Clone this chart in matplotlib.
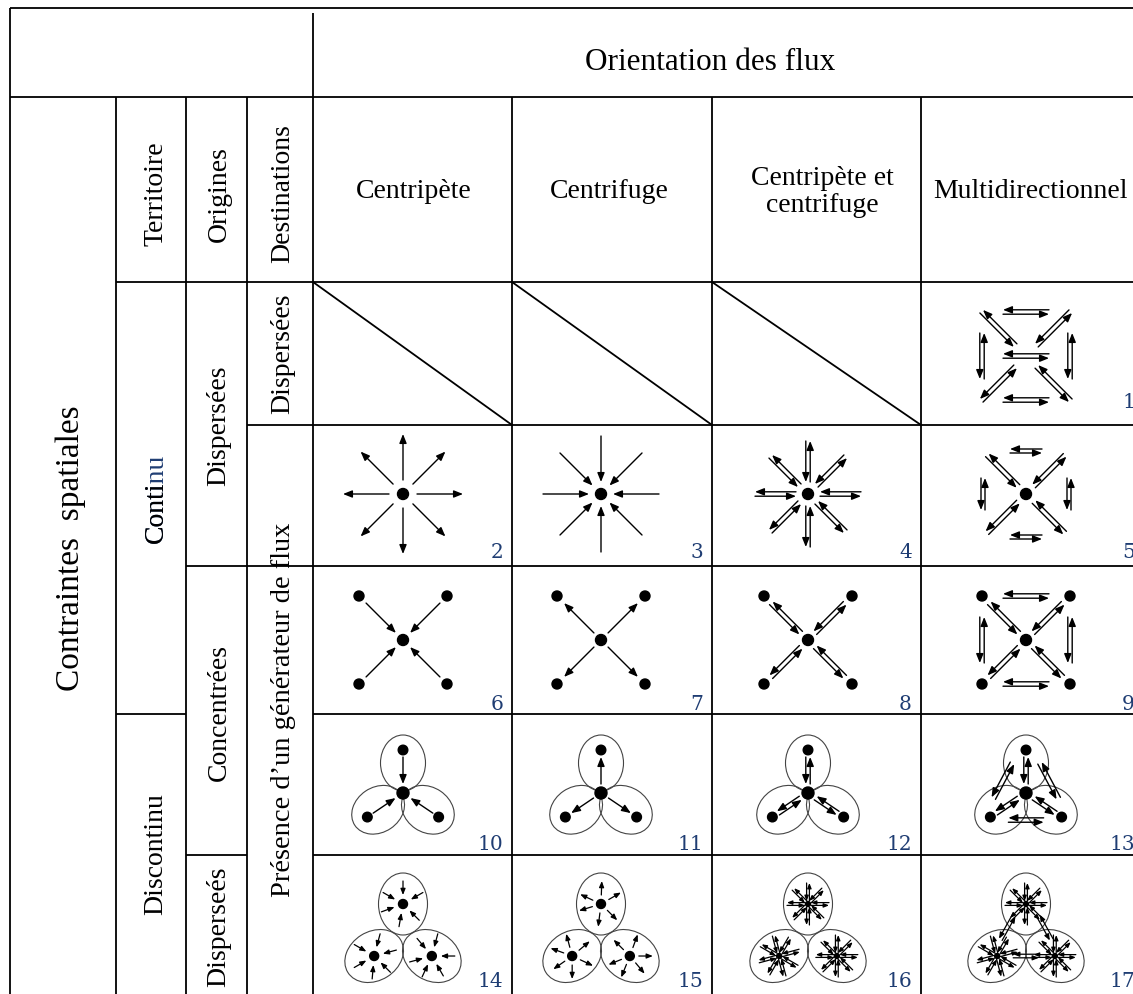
import numpy as np
import matplotlib
matplotlib.use("Agg")
import matplotlib.pyplot as plt
from matplotlib.patches import FancyArrowPatch, Ellipse, Circle

# ---------------- content ----------------
main_header = "Orientation des flux"
row_title = "Contraintes  spatiales"
sub_headers = ["Territoire", "Origines", "Destinations"]
orientations = ["Centripète", "Centrifuge", "Centripète et\ncentrifuge", "Multidirectionnel"]
territoire = ["Continu", "Discontinu"]
continu_prefix = "Conti"          # drawn in black, the rest of the word in blue
origines = ["Dispersées", "Concentrées", "Disperseés"]
destinations = ["Dispersées", "Présence d\u2019un générateur de flux"]
cell_numbers = [[None, None, None, 1],
                [2, 3, 4, 5],
                [6, 7, 8, 9],
                [10, 11, 12, 13],
                [14, 15, 16, 17]]
layouts = ["free", "star", "cross", "clover", "cluster"]   # spatial layout of each row
flows = ["in", "out", "both", "multi"]                      # flow orientation of each column
star_flip = {"in": "out", "out": "in", "both": "both", "multi": "multi"}  # row 2 drawn from the generator
blank_cells = [(0, 0), (0, 1), (0, 2)]
cluster_in_angles = [[90, 150, 200, 260, 315, 30],
                     [75, 150, 210, 265, 315, 15],
                     [75, 130, 195, 245, 300, 0]]
cluster_out_angles = [[88, 155, 197, 263, 315, 30],
                      [105, 160, 215, 270, 335, 40],
                      [70, 135, 202, 248, 310, 0]]
star_offsets = [0, 15, 0]

# ---------------- geometry / style ----------------
W, H = 1133, 994
col_x = [10, 116, 186, 247, 313, 512, 712, 921, 1145]
row_y = [8, 97, 282, 425, 566, 714, 855, 994]
icon_cx = [403, 601, 808, 1026]
icon_cy = [356, 494, 640, 793, 938]
num_right = [503, 703, 912, 1135]
num_pad = [17, 8, 4, 5, 7]
NAVY = "#1f3d73"
LW = 1.3

plt.rcParams['font.family'] = ['Liberation Serif', 'DejaVu Serif']

fig = plt.figure(figsize=(W / 100, H / 100), dpi=100)
ax = fig.add_axes([0, 0, 1, 1])
ax.set_xlim(0, W)
ax.set_ylim(H, 0)
ax.axis('off')


def hline(y, x0, x1):
    ax.plot([x0, x1], [y, y], color='k', lw=LW, solid_capstyle='butt')


def vline(x, y0, y1):
    ax.plot([x, x], [y0, y1], color='k', lw=LW, solid_capstyle='butt')


# grid
hline(row_y[0], col_x[0], W)
hline(row_y[1], col_x[0], W)
hline(row_y[2], col_x[1], W)
hline(row_y[3], col_x[3], W)
hline(row_y[4], col_x[2], W)
hline(row_y[5], col_x[1], col_x[2]); hline(row_y[5], col_x[4], W)
hline(row_y[6], col_x[2], col_x[3]); hline(row_y[6], col_x[4], W)
vline(col_x[0], row_y[0], H)
vline(col_x[4], row_y[0] + 5, H)
for x in col_x[1:4]:
    vline(x, row_y[1], H)
for x in col_x[5:8]:
    vline(x, row_y[1], H)
for (r, c) in blank_cells:
    ax.plot([col_x[4 + c], col_x[5 + c]], [row_y[2 + r], row_y[3 + r]], color='k', lw=LW)

# ---------------- text ----------------
ax.text(710, 63, main_header, ha='center', va='center', fontsize=22.5)
for xh, s in zip([414, 609, 822, 1030], orientations):
    ax.text(xh, 192, s, ha='center', va='center', fontsize=20, linespacing=1.1)
for xh, s in zip([156, 219, 283], sub_headers):
    ax.text(xh, 194, s, ha='center', va='center', rotation=90, fontsize=20)
ax.text(71, 548, row_title, ha='center', va='center', rotation=90, fontsize=24)

# "Continu": full word in blue, black prefix drawn exactly on top of it
yc = (row_y[2] + row_y[5]) / 2
t_full = ax.text(156, yc, territoire[0], ha='center', va='center', rotation=90, fontsize=20)
fig.canvas.draw()
bb = t_full.get_window_extent(fig.canvas.get_renderer())
t_full.remove()
y_start = H - bb.y0           # display -> data (1 px = 1 unit, y inverted)
ax.text(156, y_start, territoire[0], rotation=90, rotation_mode='anchor', ha='left',
        va='center', fontsize=20, color=NAVY)
ax.text(156, y_start, continu_prefix, rotation=90, rotation_mode='anchor', ha='left',
        va='center', fontsize=20, color='k', zorder=6)

ax.text(156, (row_y[5] + row_y[7]) / 2, territoire[1], ha='center', va='center', rotation=90, fontsize=20)
for (y0, y1), s in zip([(row_y[2], row_y[4]), (row_y[4], row_y[6]), (row_y[6], row_y[7])], origines):
    ax.text(219, (y0 + y1) / 2 + 2, s, ha='center', va='center', rotation=90, fontsize=20)
ax.text(283, (row_y[2] + row_y[3]) / 2, destinations[0], ha='center', va='center', rotation=90, fontsize=20)
ax.text(283, (row_y[3] + row_y[7]) / 2, destinations[1], ha='center', va='center', rotation=90, fontsize=20.5)

for r, row in enumerate(cell_numbers):
    for c, n in enumerate(row):
        if n is not None:
            ax.text(num_right[c], row_y[3 + r] - num_pad[r], str(n), ha='right', va='baseline',
                    fontsize=14.5, color=NAVY, family=['DejaVu Serif'])


# ---------------- icon helpers ----------------
def unit(a):
    t = np.deg2rad(a)
    return np.array([np.cos(t), -np.sin(t)])


def arrow(p0, p1, ms=9, lw=1.0):
    ax.add_patch(FancyArrowPatch(tuple(p0), tuple(p1),
                                 arrowstyle="-|>,head_length=0.6,head_width=0.24",
                                 mutation_scale=ms, lw=lw, color='k', shrinkA=0, shrinkB=0))


def pair(p0, p1, d=2.2, ms=9, lw=1.0):
    p0 = np.asarray(p0, float); p1 = np.asarray(p1, float)
    u = (p1 - p0) / np.linalg.norm(p1 - p0)
    n = np.array([-u[1], u[0]])
    arrow(p0 + d * n, p1 + d * n, ms, lw)
    arrow(p1 - d * n, p0 - d * n, ms, lw)


def dot(p, r):
    ax.add_patch(Circle(tuple(p), r, color='k', zorder=5))


def sides(C, D, L):
    return [(C + [-L, -D], C + [L, -D]), (C + [-L, D], C + [L, D]),
            (C + [-D, -L], C + [-D, L]), (C + [D, -L], C + [D, L])]


def flow(outer, center, kind, gap_o, gap_c, d=2.2, ms=9, lw=1.0):
    u = (center - outer) / np.linalg.norm(center - outer)
    a0 = outer + gap_o * u
    a1 = center - gap_c * u
    if kind == 'in':
        arrow(a0, a1, ms, lw)
    elif kind == 'out':
        arrow(a1, a0, ms, lw)
    else:
        pair(a0, a1, d, ms, lw)


def inter_pairs(C, pts, gap, offs, d=2.2, ms=9, lw=1.0):
    for (i, j), o in zip([(0, 1), (0, 2), (1, 2)], offs):
        a, b = pts[i], pts[j]
        u = (b - a) / np.linalg.norm(b - a)
        n = np.array([-u[1], u[0]])
        if np.dot(n, (a + b) / 2 - C) < 0:
            n = -n
        pair(a + gap * u + o * n, b - gap * u + o * n, d, ms, lw)


ELL = dict(facecolor='none', edgecolor='#444444', lw=0.8)


def draw_cell(r, c):
    C = np.array([icon_cx[c], icon_cy[r]], float)
    kind = flows[c]
    lay = layouts[r]
    if lay == 'free':
        for a in (45, 135, 225, 315):
            u = unit(a)
            pair(C + 15 * u, C + 63 * u)
        for p0, p1 in sides(C, 44, 23):
            pair(p0, p1)
        pair(C + [-23, 0], C + [23, 0])
    elif lay == 'star':
        k = star_flip[kind]
        if k in ('in', 'out', 'both'):
            for a in range(0, 360, 45):
                u = unit(a)
                if k == 'out':
                    arrow(C + 14 * u, C + 60 * u)
                elif k == 'in':
                    arrow(C + 58 * u, C + 12 * u)
                else:
                    pair(C + 12 * u, C + 53 * u)
        else:
            for a in (45, 135, 225, 315):
                u = unit(a)
                pair(C + 11 * u, C + 55 * u)
            for p0, p1 in sides(C, 43, 16):
                pair(p0, p1, d=2.0)
        dot(C, 5.5)
    elif lay == 'cross':
        corners = [C + np.array([sx * 44.0, sy * 44.0]) for sx, sy in ((-1, -1), (1, -1), (-1, 1), (1, 1))]
        for P in corners:
            flow(P, C, kind, 10, 10)
            dot(P, 5)
        if kind == 'multi':
            for p0, p1 in sides(C, 44, 23):
                pair(p0, p1)
        dot(C, 5.5)
    elif lay == 'clover':
        angs = [90, 214, 326]
        for a in angs:
            ax.add_patch(Ellipse(tuple(C + 30 * unit(a)), 56, 45, angle=-a, **ELL))
        pts = [C + 43 * unit(a) for a in angs]
        for P in pts:
            flow(P, C, kind, 7, 9)
            dot(P, 4.8)
        if kind == 'multi':
            inter_pairs(C, pts, 18, [6, 6, 3])
        dot(C, 6)
    elif lay == 'cluster':
        angs = [90, 212, 328]
        pts = [C + 34 * unit(a) for a in angs]
        for i, (P, a) in enumerate(zip(pts, angs)):
            ax.add_patch(Ellipse(tuple(P), 62, 49, angle=-a, **ELL))
            if kind == 'in':
                for b in cluster_in_angles[i]:
                    u = unit(b)
                    arrow(P + 23 * u, P + 9 * u, ms=6, lw=0.9)
                dot(P, 4.5)
            elif kind == 'out':
                for b in cluster_out_angles[i]:
                    u = unit(b)
                    arrow(P + 9 * u, P + 23 * u, ms=6, lw=0.9)
                dot(P, 4.5)
            else:
                for k in range(8):
                    u = unit(star_offsets[i] + 45 * k)
                    pair(P + 3 * u, P + 21 * u, d=1.4, ms=5, lw=0.9)
                dot(P, 2.5)
        if kind == 'multi':
            inter_pairs(C, pts, 16, [5, 5, 0], d=1.8, ms=6, lw=0.9)


for r in range(len(layouts)):
    for c in range(len(flows)):
        if (r, c) not in blank_cells:
            draw_cell(r, c)

fig.savefig("out.png", dpi=100, facecolor='white')
